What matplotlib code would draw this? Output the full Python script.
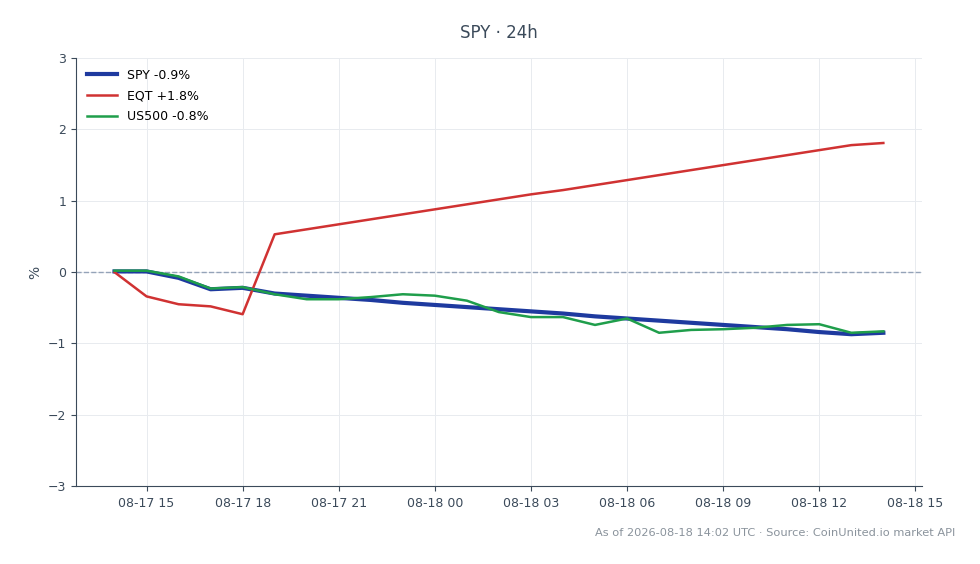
import numpy as np
import pandas as pd
import matplotlib
matplotlib.use("Agg")
import matplotlib.pyplot as plt
import matplotlib.dates as mdates

# hourly timestamps, 08-17 14:00 .. 08-18 14:00
times = pd.date_range("2026-08-17 14:00", "2026-08-18 14:00", freq="h")

spy = [0.01, 0.01, -0.08, -0.24, -0.22, -0.30, -0.33, -0.36, -0.39, -0.43,
       -0.46, -0.49, -0.52, -0.55, -0.58, -0.62, -0.65, -0.68, -0.71, -0.74,
       -0.77, -0.80, -0.84, -0.87, -0.85]
eqt = [0.00, -0.34, -0.45, -0.48, -0.59, 0.53, 0.60, 0.67, 0.74, 0.81,
       0.88, 0.95, 1.02, 1.09, 1.15, 1.22, 1.29, 1.36, 1.43, 1.50,
       1.57, 1.64, 1.71, 1.78, 1.81]
us500 = [0.02, 0.02, -0.06, -0.23, -0.21, -0.31, -0.38, -0.38, -0.35, -0.31,
         -0.33, -0.40, -0.56, -0.63, -0.63, -0.74, -0.65, -0.85, -0.81, -0.80,
         -0.78, -0.74, -0.73, -0.85, -0.83]

labels = ["SPY -0.9%", "EQT +1.8%", "US500 -0.8%"]
colors = ["#1e3a9f", "#d03232", "#1f9e4b"]

textColor = "#3b4a5a"

fig = plt.figure(figsize=(9.8, 5.64), dpi=100)
ax = fig.add_axes([0.0776, 0.138, 0.863, 0.759])

ax.plot(times, spy, color=colors[0], lw=3.0, label=labels[0], zorder=3)
ax.plot(times, eqt, color=colors[1], lw=1.8, label=labels[1], zorder=4)
ax.plot(times, us500, color=colors[2], lw=1.8, label=labels[2], zorder=4)
ax.axhline(0, color="#94a3b8", lw=1.0, ls="--", zorder=2)

ax.set_ylim(-3, 3)
ax.set_yticks([-3, -2, -1, 0, 1, 2, 3])
ax.set_yticklabels(["\u22123", "\u22122", "\u22121", "0", "1", "2", "3"])
ax.xaxis.set_major_locator(mdates.HourLocator(byhour=range(0, 24, 3)))
ax.xaxis.set_major_formatter(mdates.DateFormatter("%m-%d %H"))

ax.grid(True, color="#e8ebef", lw=0.7)
ax.set_axisbelow(True)
for s in ["top", "right"]:
    ax.spines[s].set_visible(False)
for s in ["left", "bottom"]:
    ax.spines[s].set_color(textColor)
ax.tick_params(colors=textColor, labelsize=9)
ax.tick_params(axis="x", pad=4.5)
ax.set_ylabel("%", color=textColor, fontsize=10)

ax.set_title("SPY \u00b7 24h", color=textColor, fontsize=12, pad=14.5)
leg = ax.legend(loc="upper left", frameon=False, fontsize=9,
                handlelength=2.4, labelspacing=0.62, borderaxespad=0.45)

fig.text(0.975, 0.055, "As of 2026-08-18 14:02 UTC \u00b7 Source: CoinUnited.io market API",
         ha="right", va="center", fontsize=8.2, color="#8a939c")

fig.savefig("out.png", dpi=100)
